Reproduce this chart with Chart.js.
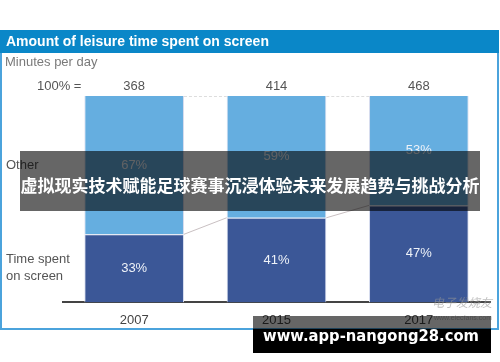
<!DOCTYPE html>
<html>
<head>
<meta charset="utf-8">
<script src="https://cdn.jsdelivr.net/npm/chart.js@4"></script>
<style>
  html, body { margin: 0; padding: 0; background: #fff; }
  #wrap { width: 500px; height: 362px; position: relative; }
</style>
</head>
<body>
<div id="wrap"><canvas id="myChart" width="500" height="362"></canvas></div>
<script>
const years = ['2007', '2015', '2017'];
const totals = [368, 414, 468];
const screenShare = [33, 41, 47];
const otherShare = [67, 59, 53];

const lightBlue = '#65aee0';
const darkBlue = '#3b5797';

// frame, title and text decorations around the plot
const decorations = {
    id: 'decorations',
    beforeDraw(chart) {
        const ctx = chart.ctx;
        ctx.save();
        ctx.fillStyle = '#fff';
        ctx.fillRect(0, 0, 500, 362);
        ctx.strokeStyle = '#4ba3dc';
        ctx.lineWidth = 2;
        ctx.strokeRect(1, 31, 497, 298);
        ctx.fillStyle = '#0a87c8';
        ctx.fillRect(0, 30, 499, 23);
        ctx.fillStyle = '#fff';
        ctx.font = 'bold 14px "Liberation Sans", Arial, sans-serif';
        ctx.textBaseline = 'middle';
        ctx.fillText('Amount of leisure time spent on screen', 6, 42);
        ctx.fillStyle = '#7a7a7a';
        ctx.font = '13px "Liberation Sans", Arial, sans-serif';
        ctx.fillText('Minutes per day', 5, 62);
        ctx.fillStyle = '#555';
        ctx.fillText('100% =', 37, 86);
        ctx.fillText('Other', 6, 165);
        ctx.fillText('Time spent', 6, 259);
        ctx.fillText('on screen', 6, 276);
        ctx.restore();
    },
    afterDatasetsDraw(chart) {
        const ctx = chart.ctx;
        const low = chart.getDatasetMeta(0).data;
        const high = chart.getDatasetMeta(1).data;
        ctx.save();
        // connectors between bars
        for (let i = 0; i < low.length - 1; i++) {
            const a = low[i], b = low[i + 1];
            ctx.strokeStyle = '#c9c0c2';
            ctx.lineWidth = 1;
            ctx.beginPath();
            ctx.moveTo(a.x + a.width / 2, a.y);
            ctx.lineTo(b.x - b.width / 2, b.y);
            ctx.stroke();
            const c = high[i], d = high[i + 1];
            ctx.setLineDash([3, 2]);
            ctx.strokeStyle = '#dddddd';
            ctx.beginPath();
            ctx.moveTo(c.x + c.width / 2, c.y + 0.5);
            ctx.lineTo(d.x - d.width / 2, d.y + 0.5);
            ctx.stroke();
            ctx.setLineDash([]);
        }
        ctx.font = '13px "Liberation Sans", Arial, sans-serif';
        ctx.textAlign = 'center';
        ctx.textBaseline = 'middle';
        low.forEach((bar, i) => {
            ctx.fillStyle = '#eef2f8';
            ctx.fillText(screenShare[i] + '%', bar.x, (bar.y + bar.base) / 2);
            const top = high[i];
            ctx.fillText(otherShare[i] + '%', top.x, (top.y + top.base) / 2);
            ctx.fillStyle = '#555';
            ctx.fillText(String(totals[i]), top.x, 86);
        });
        ctx.restore();
    },
    afterDraw(chart) {
        const ctx = chart.ctx;
        ctx.save();
        // faint source watermark
        ctx.fillStyle = 'rgba(150,150,150,0.6)';
        ctx.font = 'italic 12px "Noto Sans CJK SC", sans-serif';
        ctx.fillText('电子发烧友', 432, 307);
        ctx.font = '7px "Liberation Sans", Arial, sans-serif';
        ctx.fillText('www.elecfans.com', 434, 320);
        // overlay banner
        ctx.fillStyle = 'rgba(0,0,0,0.6)';
        ctx.fillRect(20, 151, 460, 60);
        ctx.fillStyle = '#fff';
        ctx.font = 'bold 17px "Noto Sans CJK SC", sans-serif';
        ctx.textAlign = 'center';
        ctx.textBaseline = 'middle';
        ctx.fillText('虚拟现实技术赋能足球赛事沉浸体验未来发展趋势与挑战分析', 250, 186);
        // bottom banner
        ctx.fillStyle = 'rgba(0,0,0,0.6)';
        ctx.fillRect(253, 316, 238, 13);
        ctx.fillStyle = '#000';
        ctx.fillRect(253, 329, 238, 24);
        ctx.fillStyle = '#fff';
        ctx.font = 'bold 16px "DejaVu Sans", sans-serif';
        const url = 'www.app-nangong28.com';
        const w = ctx.measureText(url).width;
        ctx.translate(371, 337);
        ctx.scale(216 / w, 1);
        ctx.fillText(url, 0, 0);
        ctx.restore();
    }
};

new Chart(document.getElementById('myChart'), {
    type: 'bar',
    data: {
        labels: years,
        datasets: [
            {
                label: 'Time spent on screen',
                data: screenShare,
                backgroundColor: darkBlue,
                borderColor: '#d6dcee',
                borderWidth: {top: 1, left: 1, right: 1, bottom: 0},
                borderSkipped: false,
                barPercentage: 0.7,
                categoryPercentage: 1
            },
            {
                label: 'Other',
                data: otherShare,
                backgroundColor: lightBlue,
                borderColor: '#d6dcee',
                borderWidth: {top: 0, left: 1, right: 1, bottom: 0},
                borderSkipped: false,
                barPercentage: 0.7,
                categoryPercentage: 1
            }
        ]
    },
    options: {
        responsive: false,
        animation: false,
        layout: {padding: {left: 63, right: 10, top: 96, bottom: 32}},
        plugins: {
            legend: {display: false},
            tooltip: {enabled: false}
        },
        scales: {
            x: {
                stacked: true,
                grid: {display: false},
                border: {display: true, color: '#444', width: 2},
                ticks: {
                    color: '#444',
                    padding: 2,
                    font: {family: '"Liberation Sans", Arial, sans-serif', size: 13}
                }
            },
            y: {
                stacked: true,
                display: false,
                min: 0,
                max: 100
            }
        }
    },
    plugins: [decorations]
});
</script>
</body>
</html>
